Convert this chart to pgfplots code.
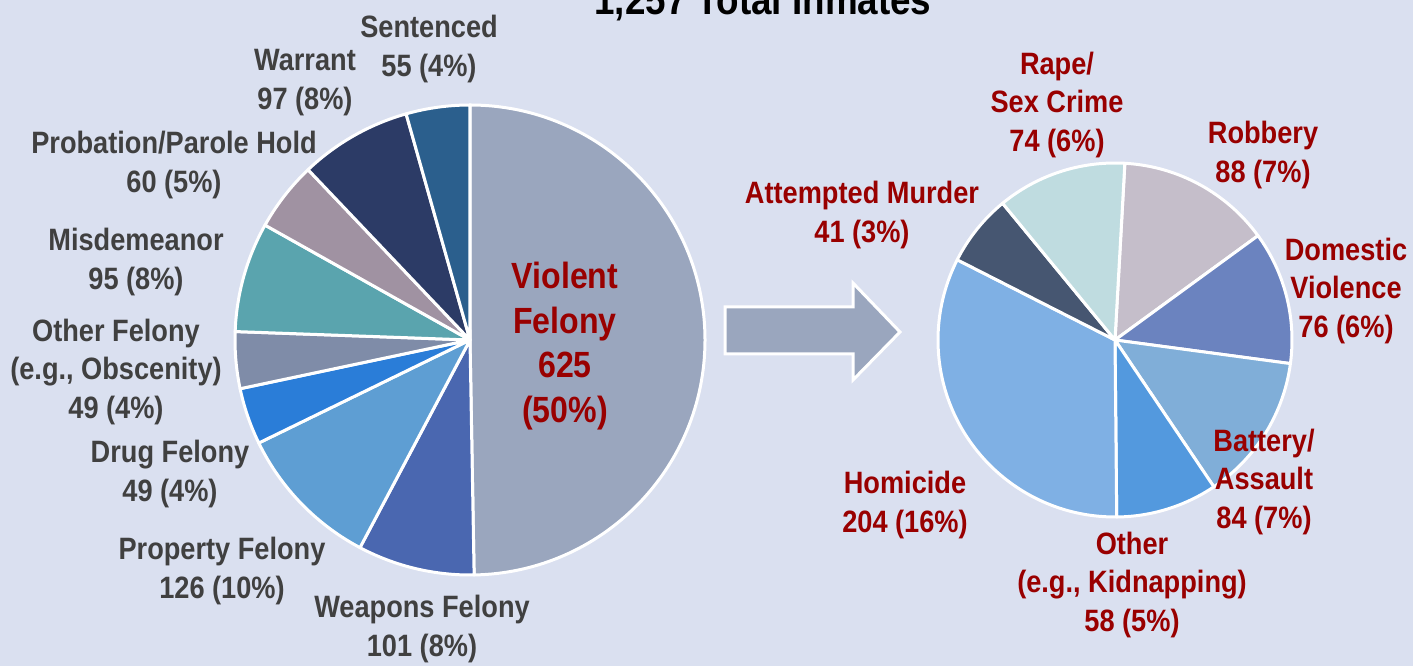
\documentclass[border=0pt]{standalone}
\usepackage{pgfplots}
\pgfplotsset{compat=1.18}
\usepackage{pgfplotstable}
\usepackage{fontspec}
\setmainfont{Liberation Sans}[FakeStretch=0.88]

\definecolor{bgc}{HTML}{DAE0F0}
\definecolor{lblgray}{HTML}{404040}
\definecolor{lblred}{HTML}{990000}
% left pie colours
\definecolor{cViolent}{HTML}{9AA6BE}
\definecolor{cWeapons}{HTML}{4A67B0}
\definecolor{cProperty}{HTML}{5E9ED3}
\definecolor{cDrug}{HTML}{2A7DD8}
\definecolor{cOtherFel}{HTML}{7F8CA8}
\definecolor{cMisd}{HTML}{5AA4AE}
\definecolor{cProb}{HTML}{A092A2}
\definecolor{cWarrant}{HTML}{2C3B66}
\definecolor{cSent}{HTML}{2B5F8D}
% right pie colours
\definecolor{cRape}{HTML}{BFDCE0}
\definecolor{cRobbery}{HTML}{C5BECA}
\definecolor{cDomestic}{HTML}{6B83BF}
\definecolor{cBattery}{HTML}{80AED8}
\definecolor{cOtherV}{HTML}{5399DE}
\definecolor{cHomicide}{HTML}{7FB0E4}
\definecolor{cAttempted}{HTML}{465671}

\pgfplotstableread{
label value color
Violent 625 cViolent
Weapons 101 cWeapons
Property 126 cProperty
Drug 49 cDrug
OtherFelony 49 cOtherFel
Misdemeanor 95 cMisd
Probation 60 cProb
Warrant 97 cWarrant
Sentenced 55 cSent
}\lefttable

\pgfplotstableread{
label value color
Robbery 88 cRobbery
Domestic 76 cDomestic
Battery 84 cBattery
Other 58 cOtherV
Homicide 204 cHomicide
Attempted 41 cAttempted
Rape 74 cRape
}\righttable

% #1 table, #2 total, #3 start angle, #4 cx, #5 cy, #6 radius
\newcommand\drawpie[6]{%
  \pgfplotstablegetrowsof{#1}%
  \pgfmathtruncatemacro\nrows{\pgfplotsretval-1}%
  \xdef\curangle{#3}%
  \foreach \i in {0,...,\nrows}{%
    \pgfplotstablegetelem{\i}{value}\of{#1}\let\val\pgfplotsretval
    \pgfplotstablegetelem{\i}{color}\of{#1}\let\col\pgfplotsretval
    \pgfmathsetmacro\endangle{\curangle-(\val/#2)*360}%
    \filldraw[fill=\col, draw=white, line width=1.5bp, line join=round]
      (axis cs:#4,#5) -- ++(\curangle:#6)
      arc[start angle=\curangle, end angle=\endangle, radius=#6] -- cycle;
    \xdef\curangle{\endangle}%
  }%
}

\tikzset{
  lbl/.style={align=center, text=lblgray, inner sep=0pt,
    font=\bfseries\fontsize{15.5}{19.5}\selectfont},
  rlbl/.style={lbl, text=lblred},
}

\begin{document}
\begin{tikzpicture}
\begin{axis}[
  scale only axis, width=706.5bp, height=333bp,
  xmin=0, xmax=1413, ymin=0, ymax=666,
  axis lines=none, clip=false,
  axis background/.style={fill=bgc},
]
\pgfplotsextra{%
  \drawpie{\lefttable}{1257}{90}{470}{326}{117.5bp}%
  \drawpie{\righttable}{625}{86.8}{1115}{326}{88.5bp}%
}
% arrow
\filldraw[fill=cViolent, draw=white, line width=1.5bp]
  (axis cs:725,312) -- (axis cs:853,312) -- (axis cs:853,286)
  -- (axis cs:900,334) -- (axis cs:853,383) -- (axis cs:853,359)
  -- (axis cs:725,359) -- cycle;

% title
\node[anchor=base, font=\bfseries\fontsize{21}{24}\selectfont, text=black]
  at (axis cs:763,651) {1,257 Total Inmates};

% left labels
\node[lbl] at (axis cs:429,617) {Sentenced\\55 (4\%)};
\node[lbl] at (axis cs:305,583) {Warrant\\97 (8\%)};
\node[lbl] at (axis cs:174,501) {Probation/Parole Hold\\60 (5\%)};
\node[lbl] at (axis cs:136,404) {Misdemeanor\\95 (8\%)};
\node[lbl] at (axis cs:116,294) {Other Felony\\(e.g., Obscenity)\\49 (4\%)};
\node[lbl] at (axis cs:170,192) {Drug Felony\\49 (4\%)};
\node[lbl] at (axis cs:222,95) {Property Felony\\126 (10\%)};
\node[lbl] at (axis cs:422,37) {Weapons Felony\\101 (8\%)};
\node[rlbl, font=\bfseries\fontsize{18.3}{22.5}\selectfont] at (axis cs:565,320)
  {Violent\\Felony\\625\\(50\%)};

% right labels
\node[rlbl] at (axis cs:1057,561) {Rape/\\Sex Crime\\74 (6\%)};
\node[rlbl] at (axis cs:1263,511) {Robbery\\88 (7\%)};
\node[rlbl] at (axis cs:1346,375) {Domestic\\Violence\\76 (6\%)};
\node[rlbl] at (axis cs:862,451) {Attempted Murder\\41 (3\%)};
\node[rlbl] at (axis cs:1264,184) {Battery/\\Assault\\84 (7\%)};
\node[rlbl] at (axis cs:1132,81) {Other\\(e.g., Kidnapping)\\58 (5\%)};
\node[rlbl] at (axis cs:905,161) {Homicide\\204 (16\%)};
\end{axis}
\pgfresetboundingbox
\path[use as bounding box] (current axis.south west) rectangle (current axis.north east);
\end{tikzpicture}
\end{document}
